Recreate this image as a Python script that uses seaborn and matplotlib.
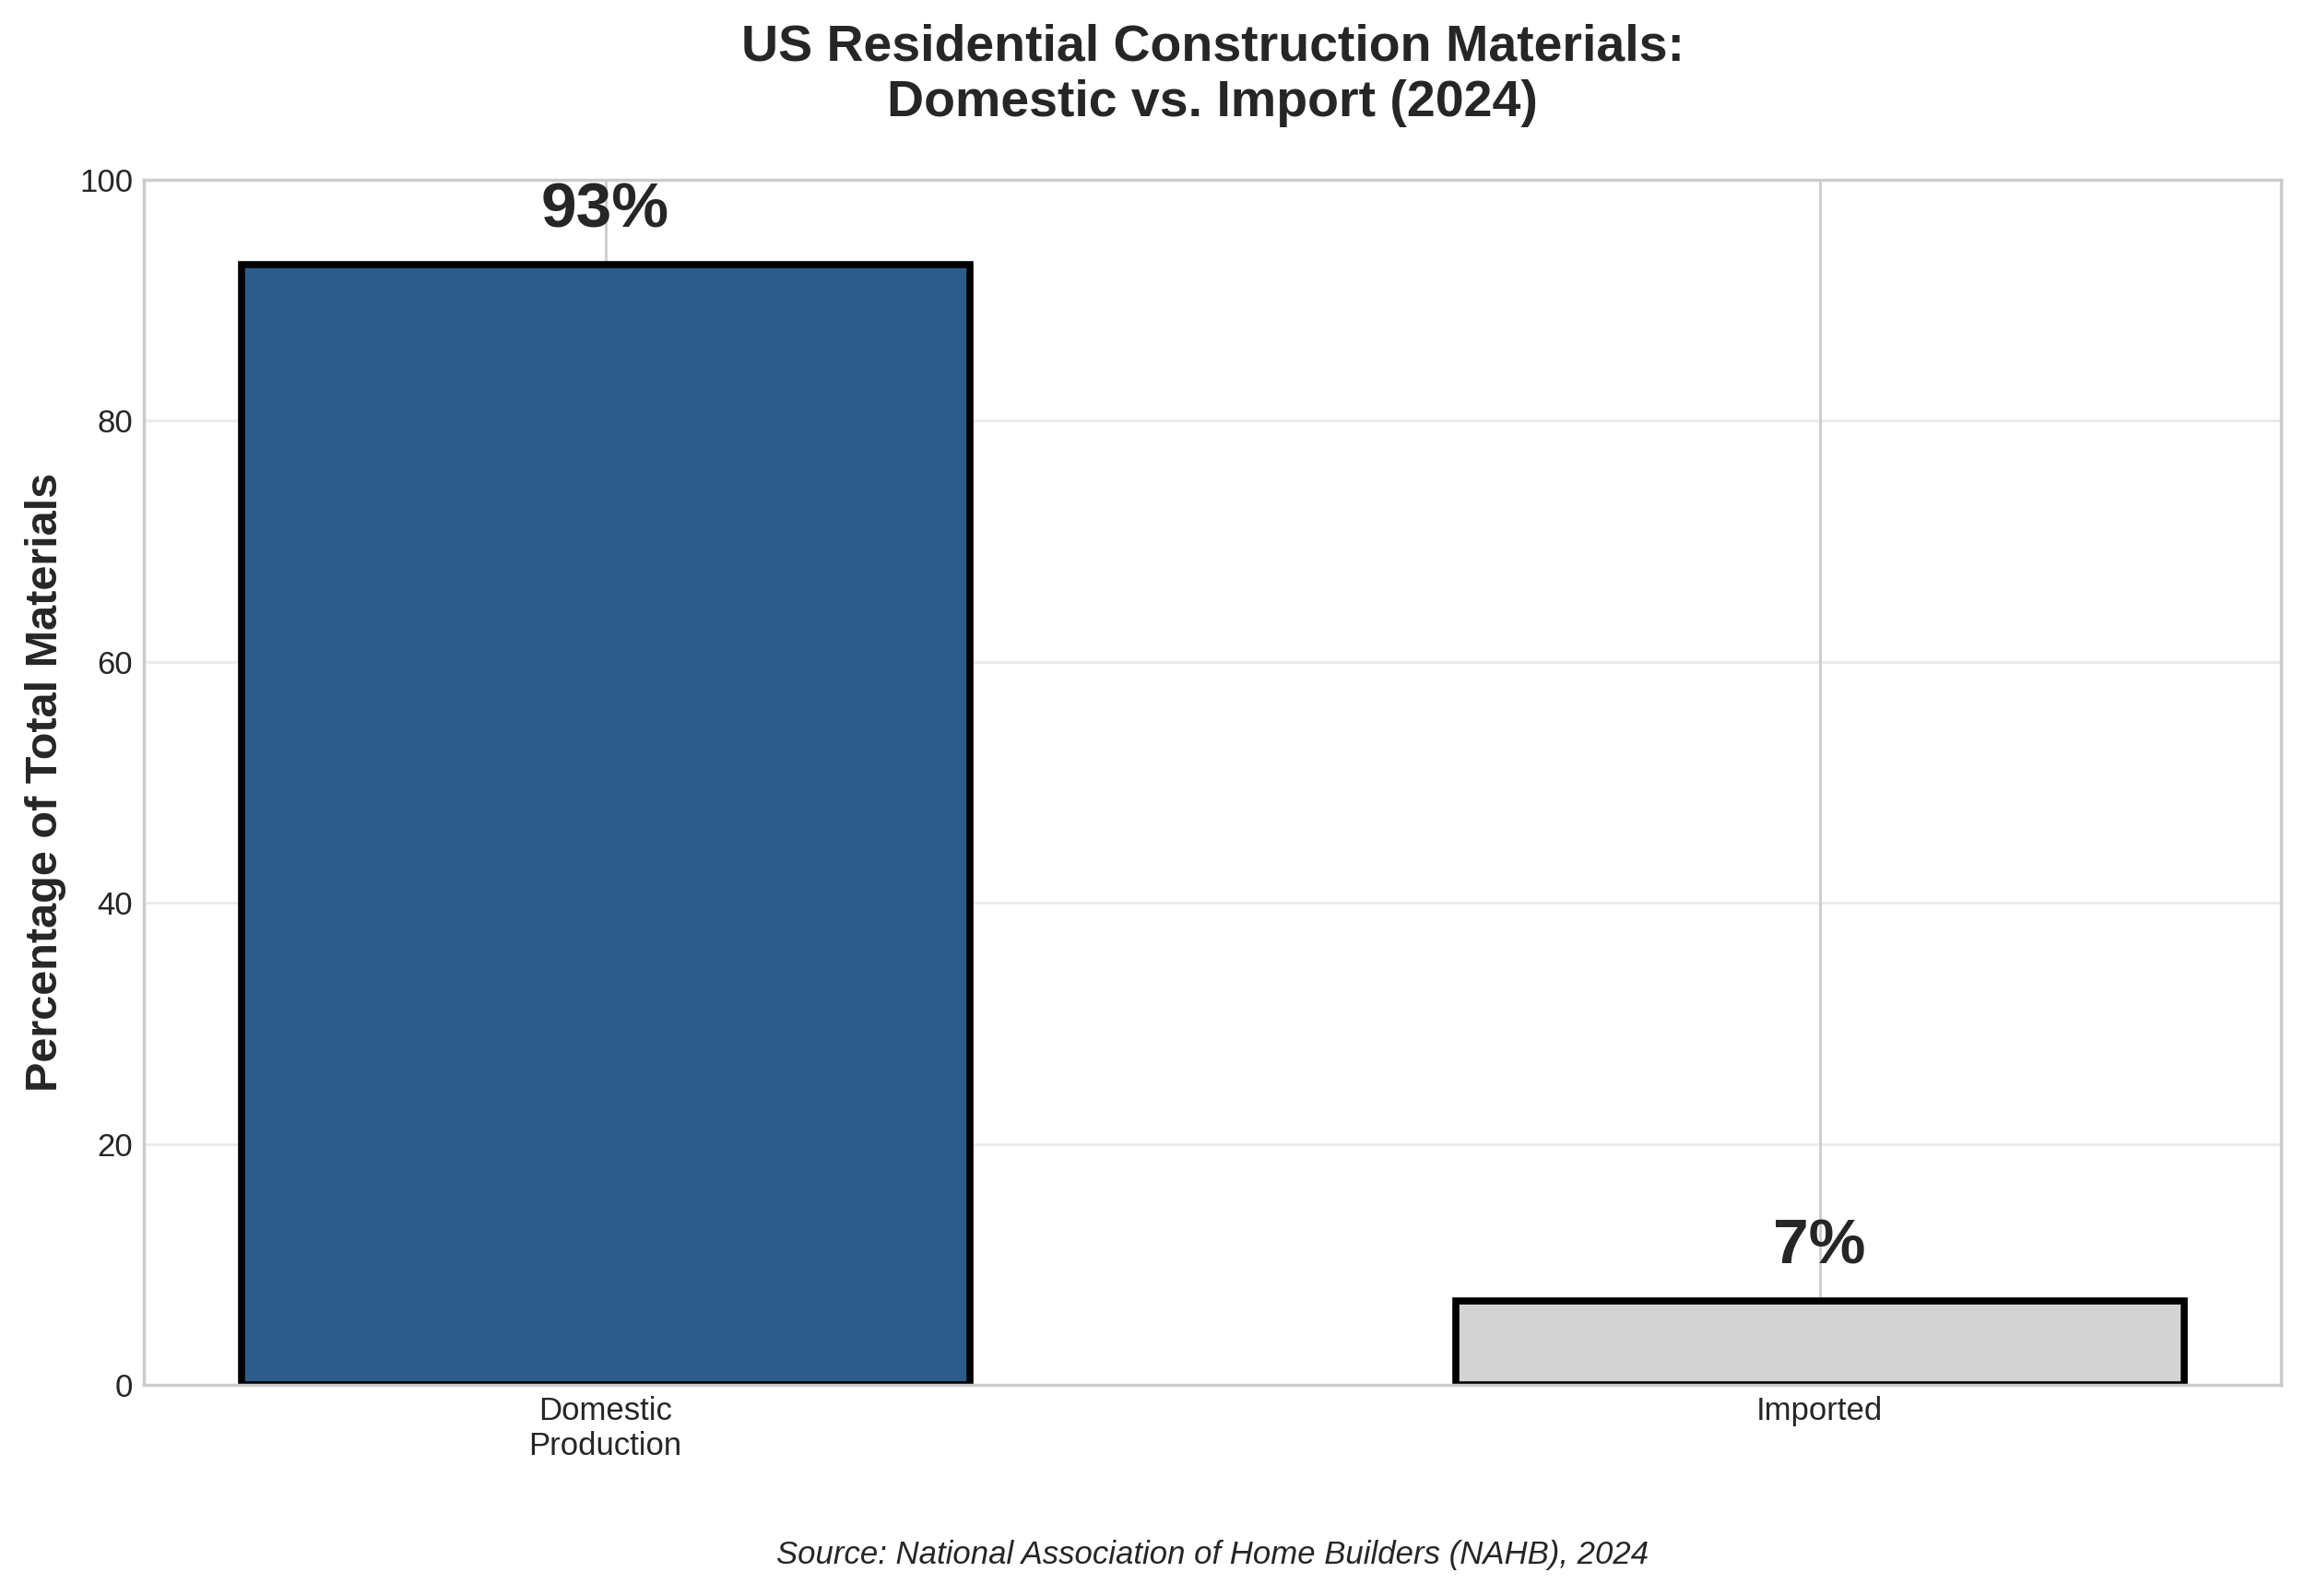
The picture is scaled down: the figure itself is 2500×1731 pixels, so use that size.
# Import libraries
import pandas as pd
import matplotlib
matplotlib.use("Agg")
import matplotlib.pyplot as plt
import seaborn as sns

# Chart data
categories = ["Domestic\nProduction", "Imported"]
shares = [93, 7]
bar_colors = ["#2E5C8A", "#D3D3D3"]
y_ticks = [0, 20, 40, 60, 80, 100]

plt.style.use("seaborn-v0_8-whitegrid")
plt.rcParams["font.family"] = ["Liberation Sans", "DejaVu Sans"]
plt.rcParams["text.color"] = "#262626"
plt.rcParams["axes.labelcolor"] = "#262626"

df = pd.DataFrame({"Source": categories, "Share": shares})

fig = plt.figure(figsize=(10, 6.924), dpi=250)
ax = fig.add_axes([0.0625, 0.1323, 0.9271, 0.755])

sns.barplot(data=df, x="Source", y="Share", hue="Source", palette=bar_colors,
            legend=False, width=0.6, edgecolor="black", linewidth=2.2,
            saturation=1, ax=ax, zorder=2)

# value labels above each bar
for patch, val in zip(ax.patches, shares):
    ax.text(patch.get_x() + patch.get_width() / 2, val + 2, f"{val}%",
            ha="center", va="bottom", fontsize=20, fontweight="bold")

# matplotlib-like default margins around the bars
ax.set_xlim(-0.38, len(categories) - 1 + 0.38)
ax.set_ylim(0, 100)
ax.set_yticks(y_ticks)
ax.set_xlabel("")
ax.set_ylabel("Percentage of Total Materials", fontsize=14, fontweight="bold")
ax.set_title("US Residential Construction Materials:\nDomestic vs. Import (2024)",
             fontsize=16, fontweight="bold", pad=20)
ax.tick_params(axis="both", labelsize=10, colors="#262626")
ax.xaxis.grid(True)
ax.yaxis.grid(True, alpha=0.4)
ax.set_axisbelow(True)

ax.text(0.5, -0.141, "Source: National Association of Home Builders (NAHB), 2024",
        transform=ax.transAxes, ha="center", va="center", fontsize=10, style="italic")

fig.savefig("out.png", dpi=250)
